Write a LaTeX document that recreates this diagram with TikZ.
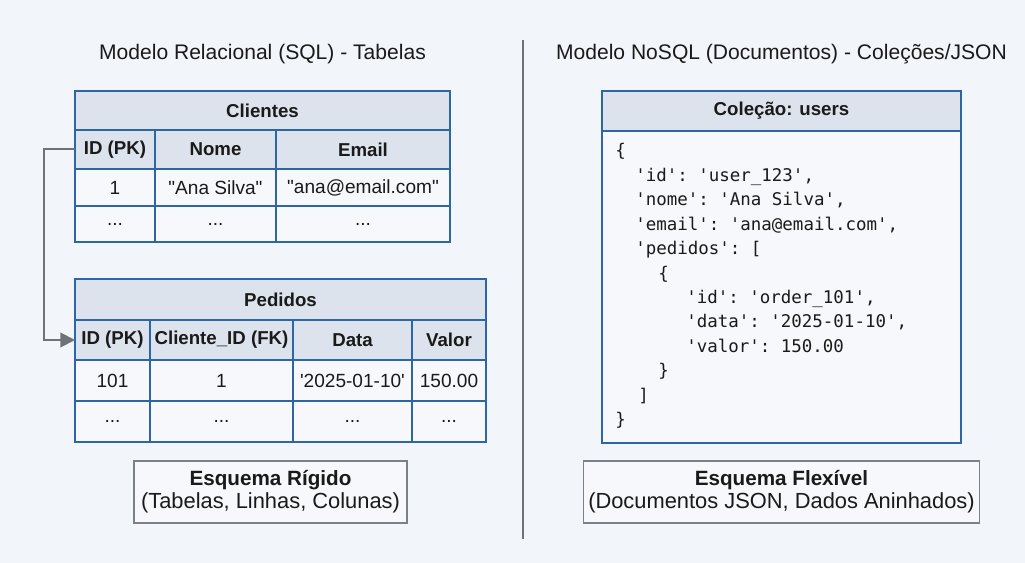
\documentclass[tikz,border=0pt]{standalone}
\usepackage{fontspec}
\setmainfont{Liberation Sans}
\setmonofont{DejaVu Sans Mono}
\usetikzlibrary{arrows.meta}
\definecolor{bg}{HTML}{F2F5F9}
\definecolor{tblue}{HTML}{2C66A4}
\definecolor{hfill}{HTML}{DCE3EC}
\definecolor{cfill}{HTML}{F6F8FB}
\definecolor{gline}{HTML}{6E7378}
\definecolor{txt}{HTML}{1A1A1A}
\definecolor{bbox}{HTML}{7C8188}
\newcommand\tcell[7]{\node[#6, minimum width={(#4-#2)*0.75pt}, minimum height={(#5-#3)*0.75pt}] (#1) at ({(#2+#4)/2},{(#3+#5)/2}) {#7};}
\newcommand\sq{\textquotesingle}
\newcommand\dq{\textquotedbl}
\begin{document}
\begin{tikzpicture}[x=0.75pt,y=-0.75pt,
  cellbase/.style={draw=tblue, line width=1.5pt, inner sep=0pt, outer sep=0pt, text=txt, font=\fontsize{14.3}{16}\selectfont},
  hdrcell/.style={cellbase, fill=hfill, font=\bfseries\fontsize{14}{16}\selectfont},
  datacell/.style={cellbase, fill=cfill},
  titletext/.style={font=\fontsize{15.8}{19}\selectfont, text=txt, anchor=base, inner sep=0pt},
  codeline/.style={anchor=base west, inner sep=0pt, font=\ttfamily\fontsize{13.1}{15}\selectfont, text=txt},
  notebox/.style={draw=bbox, line width=1.2pt, fill=cfill, text=txt, align=center, inner sep=0pt, font=\fontsize{16.4}{17.5}\selectfont},
  conn/.style={draw=gline, line width=1.5pt, -{Triangle[length=11pt,width=11pt]}},
  divider/.style={draw=gline, line width=1.5pt}]
\useasboundingbox[fill=bg] (0,0) rectangle (1025,563);

% titles
\node[titletext] (t1) at (262.5,60) {Modelo Relacional (SQL) - Tabelas};
\node[titletext] (t2) at (781.5,60) {Modelo NoSQL (Documentos) - Coleções/JSON};

% divider
\coordinate (dtop) at (522.5,40);
\coordinate (dbot) at (522.5,539);
\draw[divider] (dtop) -- (dbot);

% Clientes table
\tcell{cT}{75}{91}{450}{130}{hdrcell}{Clientes}
\tcell{cH1}{75}{130}{155}{169}{hdrcell}{ID (PK)}
\tcell{cH2}{155}{130}{276}{169}{hdrcell}{Nome}
\tcell{cH3}{276}{130}{450}{169}{hdrcell}{Email}
\tcell{cR1}{75}{169}{155}{206}{datacell}{1}
\tcell{cR2}{155}{169}{276}{206}{datacell}{\dq Ana Silva\dq}
\tcell{cR3}{276}{169}{450}{206}{datacell}{\dq ana@email.com\dq}
\tcell{cS1}{75}{206}{155}{242}{datacell}{...}
\tcell{cS2}{155}{206}{276}{242}{datacell}{...}
\tcell{cS3}{276}{206}{450}{242}{datacell}{...}

% Pedidos table
\tcell{pT}{75}{279}{486}{320}{hdrcell}{Pedidos}
\tcell{pH1}{75}{320}{150}{360}{hdrcell}{ID (PK)}
\tcell{pH2}{150}{320}{293}{360}{hdrcell}{Cliente\_ID (FK)}
\tcell{pH3}{293}{320}{412}{360}{hdrcell}{Data}
\tcell{pH4}{412}{320}{486}{360}{hdrcell}{Valor}
\tcell{pR1}{75}{360}{150}{401}{datacell}{101}
\tcell{pR2}{150}{360}{293}{401}{datacell}{1}
\tcell{pR3}{293}{360}{412}{401}{datacell}{\sq 2025-01-10\sq}
\tcell{pR4}{412}{360}{486}{401}{datacell}{150.00}
\tcell{pS1}{75}{401}{150}{442}{datacell}{...}
\tcell{pS2}{150}{401}{293}{442}{datacell}{...}
\tcell{pS3}{293}{401}{412}{442}{datacell}{...}
\tcell{pS4}{412}{401}{486}{442}{datacell}{...}

% connector PK -> FK side
\draw[conn] (cH1.west) -- ++(-31,0) |- (pH1.west);

% NoSQL collection
\tcell{nT}{602}{91}{961}{131}{hdrcell}{Coleção: users}
\tcell{nB}{602}{131}{961}{443}{datacell}{}

\node[codeline] (l1)  at (615,157.0) {\{};
\node[codeline] (l2)  at (635,181.4) {'id': 'user\_123',};
\node[codeline] (l3)  at (635,205.8) {'nome': 'Ana Silva',};
\node[codeline] (l4)  at (635,230.2) {'email': 'ana@email.com',};
\node[codeline] (l5)  at (635,254.6) {'pedidos': [};
\node[codeline] (l6)  at (658,279.0) {\{};
\node[codeline] (l7)  at (686,303.4) {'id': 'order\_101',};
\node[codeline] (l8)  at (686,327.8) {'data': '2025-01-10',};
\node[codeline] (l9)  at (686,352.2) {'valor': 150.00};
\node[codeline] (l10) at (658,376.6) {\}};
\node[codeline] (l11) at (638,401.0) {]};
\node[codeline] (l12) at (615,425.4) {\}};

% bottom notes
\node[notebox, minimum width={273*0.75pt}, minimum height={62*0.75pt}] (nl) at (270.5,492)
  {{\bfseries\fontsize{15.5}{17.5}\selectfont Esquema Rígido}\\(Tabelas, Linhas, Colunas)};
\node[notebox, minimum width={396*0.75pt}, minimum height={62*0.75pt}] (nr) at (781.5,492)
  {{\bfseries\fontsize{15.5}{17.5}\selectfont Esquema Flexível}\\(Documentos JSON, Dados Aninhados)};
\end{tikzpicture}
\end{document}
